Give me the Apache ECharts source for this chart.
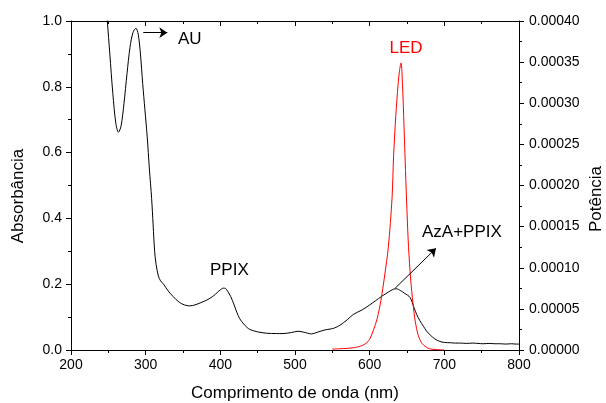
<!DOCTYPE html>
<html>
<head>
<meta charset="utf-8">
<script src="https://cdn.jsdelivr.net/npm/echarts@6/dist/echarts.min.js"></script>
<style>
  html, body { margin: 0; padding: 0; background: #fff; }
  #chart { width: 606px; height: 403px; }
</style>
</head>
<body>
<div id="chart"></div>
<script>
// Absorbance spectrum of AzA + PPIX (left axis)
const absWavelength = [
  245, 248.6, 252, 256, 260, 263.5, 267, 271, 275, 279, 283, 287, 290, 293, 296, 299,
  302, 305, 308, 310, 312, 314, 317, 320, 324, 330, 337, 345, 352, 359, 366, 374,
  382, 390, 396, 400, 404, 407, 410, 414, 418, 422, 426, 431, 436, 440, 450, 462,
  475, 484, 495, 504, 512, 522, 530, 540, 548, 553, 560, 570, 578, 590, 600, 608,
  616, 625, 632, 636, 641, 647, 654, 660, 663, 667, 672, 676, 681, 687, 694, 700,
  708, 715, 722, 730, 738, 745, 752, 760, 768, 775, 782, 790, 796, 800
];
const absValues = [
  1.10, 1.00, 0.90, 0.78, 0.69, 0.662, 0.68, 0.75, 0.84, 0.92, 0.965, 0.978, 0.96, 0.90, 0.81, 0.73,
  0.65, 0.55, 0.46, 0.38, 0.30, 0.26, 0.225, 0.21, 0.20, 0.18, 0.162, 0.145, 0.137, 0.134, 0.137, 0.144,
  0.152, 0.163, 0.175, 0.183, 0.188, 0.187, 0.178, 0.162, 0.140, 0.115, 0.095, 0.080, 0.068, 0.062, 0.055, 0.051,
  0.050, 0.050, 0.053, 0.057, 0.054, 0.049, 0.054, 0.061, 0.064, 0.067, 0.075, 0.092, 0.108, 0.122, 0.137, 0.150,
  0.163, 0.176, 0.185, 0.186, 0.181, 0.172, 0.160, 0.125, 0.108, 0.090, 0.072, 0.058, 0.046, 0.034, 0.026, 0.023,
  0.022, 0.021, 0.021, 0.020, 0.021, 0.020, 0.019, 0.020, 0.019, 0.019, 0.018, 0.019, 0.018, 0.018
];

// LED emission power (right axis)
const ledWavelength = [
  550, 560, 570, 580, 585, 590, 595, 600, 605, 610, 615, 620, 625, 630, 632, 635,
  638, 640, 642, 644, 646, 648, 650, 652, 655, 658, 661, 665, 670, 675, 680, 690, 700
];
const ledValues = [
  0.0000010, 0.0000015, 0.0000020, 0.0000030, 0.0000040, 0.0000055, 0.0000080, 0.000013,
  0.000024, 0.000038, 0.000060, 0.000090, 0.000125, 0.000185, 0.000235, 0.000285,
  0.000322, 0.000340, 0.000349, 0.000322, 0.000272, 0.000218, 0.000168, 0.000126,
  0.000085, 0.000057, 0.000035, 0.000018, 0.0000080, 0.0000040, 0.0000015, 0.0000005, 0.0
];

// Axis ranges and tick steps
const xRange = [200, 800, 100];
const absRange = [0, 1, 0.2];
const powRange = [0, 0.0004, 0.00005];

const FONT = '"Liberation Sans", Arial, sans-serif';

const absData = absWavelength.map((w, i) => [w, absValues[i]]);
const ledData = ledWavelength.map((w, i) => [w, ledValues[i]]);

const chart = echarts.init(document.getElementById('chart'), null, { renderer: 'canvas' });

const axisLine = { show: true, onZero: false, lineStyle: { color: '#000', width: 1 } };

chart.setOption({
  animation: false,
  backgroundColor: '#fff',
  grid: { left: 71, right: 87, top: 21, bottom: 53, containLabel: false },
  xAxis: [
    {
      type: 'value', position: 'bottom',
      min: xRange[0], max: xRange[1], interval: xRange[2],
      axisLine: axisLine,
      axisTick: { show: true, inside: false, length: 5, lineStyle: { color: '#000' } },
      minorTick: { show: true, splitNumber: 2, length: 3, lineStyle: { color: '#000' } },
      axisLabel: { color: '#000', fontSize: 14, fontFamily: FONT, margin: 8 },
      splitLine: { show: false }
    },
    {
      type: 'value', position: 'top',
      min: xRange[0], max: xRange[1], interval: xRange[2],
      axisLine: axisLine,
      axisTick: { show: true, inside: true, length: 5, lineStyle: { color: '#000' } },
      minorTick: { show: true, splitNumber: 2, length: 3, lineStyle: { color: '#000' } },
      axisLabel: { show: false },
      splitLine: { show: false }
    }
  ],
  yAxis: [
    {
      type: 'value', position: 'left',
      min: absRange[0], max: absRange[1], interval: absRange[2],
      axisLine: axisLine,
      axisTick: { show: true, inside: false, length: 5, lineStyle: { color: '#000' } },
      minorTick: { show: true, splitNumber: 2, length: 3, lineStyle: { color: '#000' } },
      axisLabel: { color: '#000', fontSize: 14, fontFamily: FONT, margin: 9,
        formatter: v => v.toFixed(1) },
      splitLine: { show: false }
    },
    {
      type: 'value', position: 'right',
      min: powRange[0], max: powRange[1], interval: powRange[2],
      axisLine: axisLine,
      axisTick: { show: true, inside: false, length: 5, lineStyle: { color: '#000' } },
      minorTick: { show: true, splitNumber: 2, length: 3, lineStyle: { color: '#000' } },
      axisLabel: { color: '#000', fontSize: 14, fontFamily: FONT, margin: 10,
        formatter: v => v.toFixed(5) },
      splitLine: { show: false }
    }
  ],
  series: [
    {
      name: 'AzA+PPIX', type: 'line', xAxisIndex: 0, yAxisIndex: 0,
      data: absData, showSymbol: false, smooth: 0.3, clip: true,
      lineStyle: { color: '#000', width: 1 },
      silent: true,
      markLine: {
        silent: true, symbol: ['none', 'arrow'], symbolSize: 8,
        label: { show: false },
        lineStyle: { color: '#000', width: 1, type: 'solid' },
        emphasis: { disabled: true },
        data: [
          [{ coord: [296.8, 0.9645] }, { coord: [329, 0.9645] }],
          [{ coord: [634, 0.1875] }, { coord: [688.8, 0.309] }]
        ]
      }
    },
    {
      name: 'LED', type: 'line', xAxisIndex: 0, yAxisIndex: 1,
      data: ledData, showSymbol: false, smooth: 0.3, clip: true,
      lineStyle: { color: '#ff0000', width: 1 },
      silent: true
    }
  ],
  graphic: [
    { type: 'text', x: 178, y: 39, silent: true,
      style: { text: 'AU', fill: '#000', font: '17px ' + FONT, textAlign: 'left', textVerticalAlign: 'middle' } },
    { type: 'text', x: 406, y: 48, silent: true,
      style: { text: 'LED', fill: '#ff0000', font: '17px ' + FONT, textAlign: 'center', textVerticalAlign: 'middle' } },
    { type: 'text', x: 210, y: 270, silent: true,
      style: { text: 'PPIX', fill: '#000', font: '17px ' + FONT, textAlign: 'left', textVerticalAlign: 'middle' } },
    { type: 'text', x: 422, y: 232, silent: true,
      style: { text: 'AzA+PPIX', fill: '#000', font: '17px ' + FONT, textAlign: 'left', textVerticalAlign: 'middle' } },
    { type: 'text', x: 295, y: 393, silent: true,
      style: { text: 'Comprimento de onda (nm)', fill: '#000', font: '17px ' + FONT, textAlign: 'center', textVerticalAlign: 'middle' } },
    { type: 'text', x: 18.5, y: 196, rotation: Math.PI / 2, silent: true,
      style: { text: 'Absorbância', fill: '#000', font: '17px ' + FONT, textAlign: 'center', textVerticalAlign: 'middle' } },
    { type: 'text', x: 596, y: 199, rotation: Math.PI / 2, silent: true,
      style: { text: 'Potência', fill: '#000', font: '17px ' + FONT, textAlign: 'center', textVerticalAlign: 'middle' } }
  ]
});
</script>
</body>
</html>
